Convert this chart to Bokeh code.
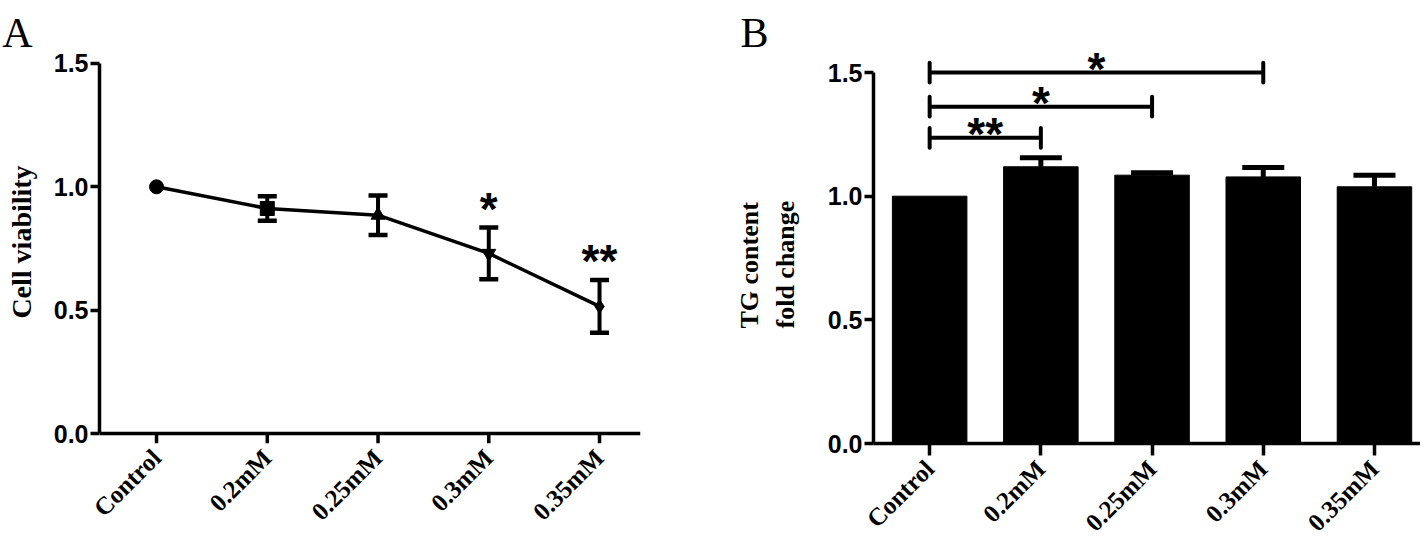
import math
from bokeh.plotting import figure
from bokeh.layouts import row
from bokeh.models import (ColumnDataSource, Whisker, TeeHead, FixedTicker, Label,
                          Range1d, Span)
from bokeh.core.properties import value
from bokeh.embed import file_html
from bokeh.resources import INLINE

# ---------------- data ----------------
categories = ["Control", "0.2mM", "0.25mM", "0.3mM", "0.35mM"]

# Panel A: cell viability (mean, error)
viability = [1.0, 0.912, 0.885, 0.73, 0.515]
viability_err = [0.0, 0.05, 0.08, 0.105, 0.107]
viability_sig = ["", "", "", "*", "**"]

# Panel B: TG content fold change (mean, error)
tg_fold = [1.0, 1.119, 1.085, 1.078, 1.038]
tg_err = [0.0, 0.036, 0.01, 0.038, 0.047]
# comparisons vs Control: (index of group, significance label)
tg_comparisons = [(1, "**"), (2, "*"), (3, "*")]
bracket_levels = [1.236, 1.362, 1.5]

y_ticks = [0.0, 0.5, 1.0, 1.5]

SANS = "Liberation Sans"
SERIF = "Liberation Serif"
xs = list(range(len(categories)))
label_map = {i: c for i, c in enumerate(categories)}


def style(p):
    p.outline_line_color = None
    p.xgrid.grid_line_color = None
    p.ygrid.grid_line_color = None
    p.background_fill_color = "white"
    p.border_fill_color = "white"
    for ax in (p.xaxis[0], p.yaxis[0]):
        ax.axis_line_width = 3.5
        ax.axis_line_color = "black"
        ax.major_tick_line_width = 3.5
        ax.major_tick_line_color = "black"
        ax.major_tick_out = 9
        ax.major_tick_in = 0
        ax.minor_tick_line_color = None
        ax.major_label_text_color = "black"
    p.yaxis.ticker = FixedTicker(ticks=y_ticks)
    p.yaxis.bounds = (0, 1.5)
    p.yaxis.major_label_overrides = {t: f"{t:.1f}" for t in y_ticks}
    p.yaxis.major_label_text_font = SANS
    p.yaxis.major_label_text_font_style = "bold"
    p.yaxis.major_label_text_font_size = "25px"
    p.yaxis.major_label_standoff = 2
    p.xaxis.ticker = FixedTicker(ticks=xs)
    p.xaxis.major_label_overrides = label_map
    p.xaxis.major_label_orientation = math.pi / 4
    p.xaxis.major_label_text_font = SERIF
    p.xaxis.major_label_text_font_style = "bold"
    p.xaxis.major_label_text_font_size = "25px"
    p.xaxis.major_label_standoff = 9


def panel_letter(p, x, y, txt, side):
    # placed in a side panel with spare room so it is not clipped to the frame
    p.add_layout(Label(x=x, y=y, text=txt, text_font=SERIF,
                       text_font_size="42px", text_baseline="alphabetic",
                       text_align="left", text_color="black"), side)


# ---------------- Panel A ----------------
pA = figure(frame_width=541, frame_height=403,
            x_range=Range1d(-0.515, 4.37), y_range=Range1d(-0.0405, 1.593),
            output_backend="svg", toolbar_location=None,
            min_border_left=99, min_border_right=80,
            min_border_top=40, min_border_bottom=95)
style(pA)
pA.yaxis.axis_label = "Cell viability"
pA.yaxis.axis_label_text_font = SERIF
pA.yaxis.axis_label_text_font_style = "bold"
pA.yaxis.axis_label_text_font_size = "28px"
pA.yaxis.axis_label_text_color = "black"
pA.yaxis.axis_label_standoff = 14
# x axis of panel A sits at y = 0 (drawn inside the frame), labels from the axis
pA.xaxis.axis_line_color = None
pA.xaxis.major_tick_line_color = None
pA.xaxis.major_tick_out = 0
pA.xaxis.major_label_standoff = 10
pA.add_layout(Span(location=0, dimension="width", line_color="black",
                   line_width=3.5))
pA.segment(x0=xs, x1=xs, y0=[0] * len(xs), y1=[pA.y_range.start] * len(xs),
           line_color="black", line_width=3.5)

markers = ["circle", "square", "triangle", "inverted_triangle", "diamond"]
srcA = ColumnDataSource(dict(x=xs, y=viability, m=markers))
pA.line("x", "y", source=srcA, line_color="black", line_width=3.5)
pA.scatter("x", "y", source=srcA, marker="m", size=14,
           fill_color="black", line_color="black")

wi = [i for i in xs if viability_err[i] > 0]
srcAw = ColumnDataSource(dict(
    x=wi,
    upper=[viability[i] + viability_err[i] for i in wi],
    lower=[viability[i] - viability_err[i] for i in wi]))
pA.add_layout(Whisker(source=srcAw, base="x", upper="upper", lower="lower",
                      dimension="height", line_width=4, line_color="black",
                      upper_head=TeeHead(size=19, line_width=4.5, line_color="black"),
                      lower_head=TeeHead(size=19, line_width=4.5, line_color="black")))

si = [i for i in xs if viability_sig[i]]
srcAs = ColumnDataSource(dict(
    x=si, y=[viability[i] + viability_err[i] for i in si],
    t=[viability_sig[i] for i in si]))
pA.text("x", "y", text="t", source=srcAs, text_font=value(SANS),
        text_font_style="bold", text_font_size="46px", y_offset=-19,
        text_align="center", text_baseline="alphabetic", text_color="black")

panel_letter(pA, -1.392, 1.622, "A", "right")

# ---------------- Panel B ----------------
pB = figure(frame_width=547, frame_height=403,
            x_range=Range1d(-0.505, 4.414), y_range=Range1d(0, 1.6296),
            output_backend="svg", toolbar_location=None,
            min_border_left=153, min_border_right=0,
            min_border_top=40, min_border_bottom=95)
style(pB)
pB.xaxis.major_tick_out = 12
pB.xaxis.major_label_standoff = 9

srcB = ColumnDataSource(dict(x=xs, top=tg_fold))
pB.vbar(x="x", top="top", bottom=0, width=0.67, source=srcB,
        fill_color="black", line_color="black", line_width=1)

bi = [i for i in xs if tg_err[i] > 0]
srcBw = ColumnDataSource(dict(
    x=bi, upper=[tg_fold[i] + tg_err[i] for i in bi],
    lower=[tg_fold[i] for i in bi]))
pB.add_layout(Whisker(source=srcBw, base="x", upper="upper", lower="lower",
                      dimension="height", line_width=5, line_color="black",
                      upper_head=TeeHead(size=42, line_width=5, line_color="black"),
                      lower_head=None))

# significance brackets (Control vs group)
tick_h = 0.04
hx0, hx1, hy, vx, vy0, vy1, sx, sy, st = [], [], [], [], [], [], [], [], []
for (gi, lab), lvl in zip(tg_comparisons, bracket_levels):
    hx0.append(xs[0]); hx1.append(xs[gi]); hy.append(lvl)
    for xe in (xs[0], xs[gi]):
        vx.append(xe); vy0.append(lvl - tick_h); vy1.append(lvl + tick_h)
    sx.append((xs[0] + xs[gi]) / 2); sy.append(lvl); st.append(lab)
pB.segment(x0=hx0, x1=hx1, y0=hy, y1=hy, line_color="black", line_width=4)
pB.segment(x0=vx, x1=vx, y0=vy0, y1=vy1, line_color="black", line_width=4,
           line_cap="round")
pB.text(x=sx, y=sy, text=st, text_font=value(SANS), text_font_style="bold",
        text_font_size="46px", text_align="center", text_baseline="alphabetic",
        y_offset=-4, text_color="black")

panel_letter(pB, -1.701, 1.658, "B", "left")
for txt, xl in (("TG content", -1.620), ("fold change", -1.296)):
    pB.add_layout(Label(x=xl, y=0.465, text=txt, angle=math.pi / 2,
                        text_font=SERIF, text_font_style="bold",
                        text_font_size="26px", text_align="left",
                        text_baseline="middle", text_color="black"), "left")

layout = row(pA, pB)
open("out.html", "w").write(file_html(layout, INLINE))
